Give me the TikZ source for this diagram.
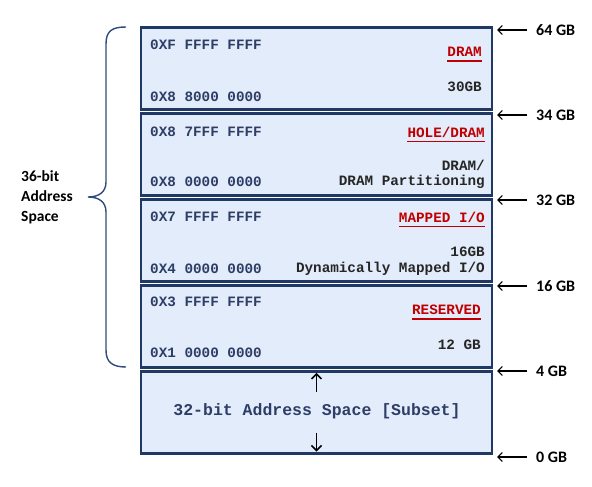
\documentclass[tikz,border=0pt]{standalone}
\usepackage{fontspec}
\setmainfont{Carlito}
\newfontfamily\monof{Liberation Mono}
\usetikzlibrary{arrows.meta}
\definecolor{navy}{HTML}{1F3864}
\definecolor{boxfill}{HTML}{E2ECFA}
\definecolor{addrc}{HTML}{2E3D66}
\definecolor{redc}{HTML}{C00000}
\definecolor{darkt}{HTML}{262626}
\definecolor{bracec}{HTML}{2F4A7F}
\tikzset{
  membox/.style={draw=navy, line width=2.6pt, fill=boxfill, minimum width=351pt, minimum height=82pt, inner sep=0pt},
  addr/.style={anchor=west, inner sep=0pt, text=addrc, font=\monof\bfseries\fontsize{14.3}{16}\selectfont},
  redlab/.style={anchor=east, inner sep=0pt, text=redc, font=\monof\bfseries\fontsize{14.3}{16}\selectfont},
  sizelab/.style={anchor=east, inner sep=0pt, text=darkt, font=\monof\bfseries\fontsize{14.3}{16}\selectfont},
  uline/.style={draw=redc, line width=1.3pt},
  gblab/.style={anchor=west, inner sep=0pt, font=\bfseries\fontsize{16}{18}\selectfont},
  ptr/.style={draw=black, line width=1.1pt, -{Straight Barb[length=4.5pt,width=9pt]}},
  vptr/.style={draw=black, line width=1.5pt, -{Straight Barb[length=5pt,width=10pt]}},
}
\begin{document}
\begin{tikzpicture}[x=1pt,y=-1pt]
\useasboundingbox (0,0) rectangle (592,487);
% boxes
\node[membox] (b1) at (316.5,68.5) {};
\node[membox] (b2) at (316.5,154.3) {};
\node[membox] (b3) at (316.5,240.5) {};
\node[membox] (b4) at (316.5,326.3) {};
\node[membox] (b5) at (316.5,412.2) {};
% box 1
\node[addr] (a1t) at (150,45) {0XF FFFF FFFF};
\node[addr] (a1b) at (150,97) {0X8 8000 0000};
\node[redlab] (r1) at (482,52) {DRAM};
\draw[uline] ([yshift=-4pt]r1.south west) -- ([yshift=-4pt]r1.south east);
\node[sizelab] (s1) at (482,87) {30GB};
% box 2
\node[addr] (a2t) at (150,132) {0X8 7FFF FFFF};
\node[addr] (a2b) at (150,182) {0X8 0000 0000};
\node[redlab] (r2) at (485,132) {HOLE/DRAM};
\draw[uline] ([yshift=-4pt]r2.south west) -- ([yshift=-4pt]r2.south east);
\node[sizelab] (s2a) at (485,165) {DRAM/};
\node[sizelab] (s2b) at (485,182) {DRAM Partitioning};
% box 3
\node[addr] (a3t) at (150,217) {0X7 FFFF FFFF};
\node[addr] (a3b) at (150,269) {0X4 0000 0000};
\node[redlab] (r3) at (485,217) {MAPPED I/O};
\draw[uline] ([yshift=-4pt]r3.south west) -- ([yshift=-4pt]r3.south east);
\node[sizelab] (s3a) at (485,252) {16GB};
\node[sizelab] (s3b) at (485,269) {Dynamically Mapped I/O};
% box 4
\node[addr] (a4t) at (150,302) {0X3 FFFF FFFF};
\node[addr] (a4b) at (150,353) {0X1 0000 0000};
\node[redlab] (r4) at (481,310) {RESERVED};
\draw[uline] ([yshift=-4pt]r4.south west) -- ([yshift=-4pt]r4.south east);
\node[sizelab] (s4) at (481,345) {12 GB};
% box 5
\node[inner sep=0pt, text=addrc, font=\monof\bfseries\fontsize{16.5}{18}\selectfont] (t5) at (317,411) {32-bit Address Space [Subset]};
\draw[vptr] ([yshift=-22pt]b5.north) -- ([yshift=-3pt]b5.north);
\draw[vptr] ([yshift=22pt]b5.south) -- ([yshift=3pt]b5.south);
% right labels
\node[gblab] (l64) at (536,30) {64 GB};
\node[gblab] (l34) at (536,115) {34 GB};
\node[gblab] (l32) at (536,200) {32 GB};
\node[gblab] (l16) at (536,286) {16 GB};
\node[gblab] (l4) at (536,371) {4 GB};
\node[gblab] (l0) at (536,457) {0 GB};
\coordinate (p64) at (497,30);
\coordinate (p34) at (497,115);
\coordinate (p32) at (497,200);
\coordinate (p16) at (497,286);
\coordinate (p4) at (497,371);
\coordinate (p0) at (497,457);
\foreach \n in {64,34,32,16,4,0}{
  \draw[ptr] ([xshift=-9pt]l\n.west) -- (p\n);
}
% brace
\draw[bracec, line width=1.4pt] (126,27) .. controls (112,27) and (106,31) .. (106,44) -- (106,182)
  .. controls (106,192) and (99,197) .. (88,197)
  .. controls (99,197) and (106,202) .. (106,212) -- (106,350)
  .. controls (106,362) and (112,367) .. (126,367);
\node[anchor=west, inner sep=0pt, align=left, font=\bfseries\fontsize{15.5}{20}\selectfont] (lbl) at (21,197) {36-bit\\Address\\Space};
\end{tikzpicture}
\end{document}
